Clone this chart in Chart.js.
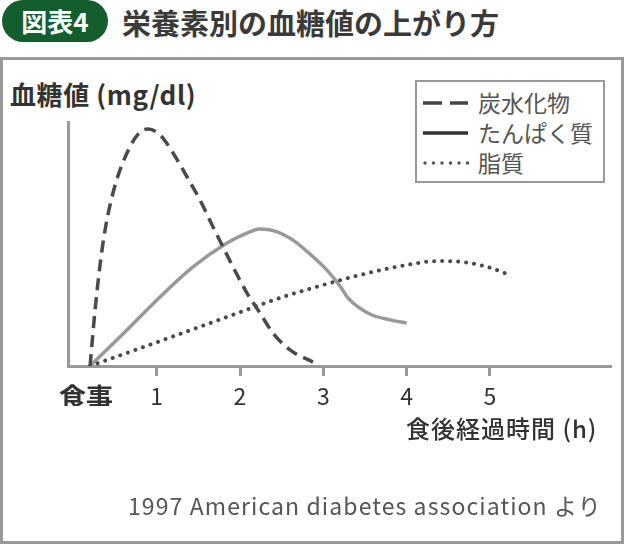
<!DOCTYPE html>
<html>
<head>
<meta charset="utf-8">
<script src="https://cdn.jsdelivr.net/npm/chart.js@4.4.1/dist/chart.umd.min.js"></script>
<style>
  html,body{margin:0;padding:0;background:#fff;}
  body{width:624px;height:544px;position:relative;overflow:hidden;font-family:"Noto Sans CJK JP","Noto Sans",sans-serif;}
  .abs{position:absolute;white-space:nowrap;line-height:1;}
  #frame{position:absolute;left:0;top:57px;width:618px;height:481px;border:3px solid #999;}
  #badge{position:absolute;left:2px;top:0px;width:106px;height:42px;border-radius:21px;background:#135d2e;color:#fff;font-weight:700;font-size:26px;line-height:42px;text-align:center;}
  #title{left:122px;top:8px;font-size:29px;font-weight:700;color:#3a3a3a;}
  #ylabel{left:10px;top:81px;font-size:26px;font-weight:700;color:#333;letter-spacing:0.6px;}
  #legend{position:absolute;left:415px;top:80px;width:186px;height:99px;border:2.5px solid #999;background:#fff;}
  .lt{font-size:23px;color:#555;}
  #xtitle{left:406px;top:416px;font-size:24px;font-weight:500;color:#333;letter-spacing:1px;}
  #footer{left:128px;top:494px;font-size:23px;color:#555;letter-spacing:1.1px;}
  canvas{position:absolute;left:0;top:0;}
</style>
</head>
<body>
<div id="frame"></div>
<div id="badge">図表4</div>
<div id="title" class="abs">栄養素別の血糖値の上がり方</div>
<div id="ylabel" class="abs">血糖値 (mg/dl)</div>
<canvas id="c" width="624" height="544"></canvas>
<div id="legend"></div>
<svg id="legsvg" width="624" height="544" style="position:absolute;left:0;top:0;pointer-events:none">
  <line x1="423" y1="103" x2="442" y2="103" stroke="#444" stroke-width="3.5"/>
  <line x1="450" y1="103" x2="468" y2="103" stroke="#444" stroke-width="3.5"/>
  <line x1="423" y1="133" x2="468" y2="133" stroke="#333" stroke-width="3.5"/>
  <line x1="425" y1="163" x2="468" y2="163" stroke="#555" stroke-width="3.5" stroke-linecap="round" stroke-dasharray="0 8.5"/>
</svg>
<div class="abs lt" style="left:478px;top:91px">炭水化物</div>
<div class="abs lt" style="left:478px;top:121px">たんぱく質</div>
<div class="abs lt" style="left:478px;top:151px">脂質</div>
<div id="xtitle" class="abs">食後経過時間 (h)</div>
<div id="footer" class="abs">1997 American diabetes association より</div>
<script>
// ---- data (x = hours after meal, y = relative blood glucose 0-100) ----
const seriesNames = ['炭水化物', 'たんぱく質', '脂質'];
const carbsX = [0.2, 0.26, 0.355, 0.475, 0.643, 0.8, 0.896, 1.04, 1.196, 1.364, 1.52, 1.676, 1.796, 1.916, 2.084, 2.24, 2.396, 2.6, 2.876];
const carbsY = [0, 23, 50.4, 70.9, 87.3, 95.9, 97.1, 94.7, 87.3, 77.5, 68, 57, 48.8, 40.6, 29.9, 21.7, 13.5, 6.6, 1.6];
const proteinX = [0.2, 0.643, 1.04, 1.436, 1.844, 2.036, 2.24, 2.42, 2.636, 2.84, 3.044, 3.2, 3.296, 3.416, 3.584, 3.8, 4.0];
const proteinY = [0, 14.8, 28.3, 40.6, 50.4, 53.7, 56.1, 55.3, 51.6, 45.9, 39.3, 32.8, 27.9, 24.2, 20.9, 18.9, 17.6];
const fatX = [0.2, 1.04, 1.844, 2.48, 2.876, 3.44, 4.0, 4.377, 4.68, 4.97, 5.24];
const fatY = [0, 10.2, 20.1, 27.9, 32, 37.3, 41.4, 43, 42.6, 40.6, 37.3];
const tickValues = [0.15, 1, 2, 3, 4, 5];
const tickLabels = ['食事', '1', '2', '3', '4', '5'];

const pts = (xs, ys) => xs.map((x, i) => ({x: x, y: ys[i]}));
const FONT = '"Noto Sans CJK JP", "Noto Sans", sans-serif';

new Chart(document.getElementById('c'), {
  type: 'line',
  data: {
    datasets: [
      {label: seriesNames[0], data: pts(carbsX, carbsY), borderColor: '#4a4a4a', borderWidth: 3.5, borderDash: [12, 7], cubicInterpolationMode: 'monotone', pointRadius: 0, fill: false},
      {label: seriesNames[2], data: pts(fatX, fatY), borderColor: '#4a4a4a', borderWidth: 4, borderDash: [0.01, 8], borderCapStyle: 'round', cubicInterpolationMode: 'monotone', pointRadius: 0, fill: false},
      {label: seriesNames[1], data: pts(proteinX, proteinY), borderColor: '#999999', borderWidth: 3.5, cubicInterpolationMode: 'monotone', pointRadius: 0, fill: false}
    ]
  },
  options: {
    responsive: false,
    animation: false,
    devicePixelRatio: 1,
    layout: {padding: {left: 68, top: 122, right: 13, bottom: 138}},
    plugins: {legend: {display: false}, tooltip: {enabled: false}, title: {display: false}},
    scales: {
      x: {
        type: 'linear', min: -0.065, max: 6.454,
        afterBuildTicks: s => { s.ticks = tickValues.map(v => ({value: v})); },
        afterFit: s => { s.height = 40; },
        ticks: {
          autoSkip: false, maxRotation: 0, padding: 6, color: '#333',
          callback: (v) => { const i = tickValues.indexOf(v); return i >= 0 ? tickLabels[i] : ''; },
          font: ctx => (ctx.tick && ctx.tick.value === tickValues[0]) ? {family: FONT, size: 27, weight: 'bold'} : {family: FONT, size: 23}
        },
        grid: {
          display: true, drawOnChartArea: false, drawTicks: true, tickLength: 10, tickWidth: 3,
          tickColor: ctx => (ctx.tick && ctx.tick.value === tickValues[0]) ? 'rgba(0,0,0,0)' : '#999'
        },
        border: {display: true, color: '#999', width: 3}
      },
      y: {
        type: 'linear', min: 0, max: 100,
        afterFit: s => { s.width = 0; },
        ticks: {display: false},
        grid: {display: false, drawTicks: false},
        border: {display: true, color: '#999', width: 3}
      }
    }
  }
});
</script>
</body>
</html>
